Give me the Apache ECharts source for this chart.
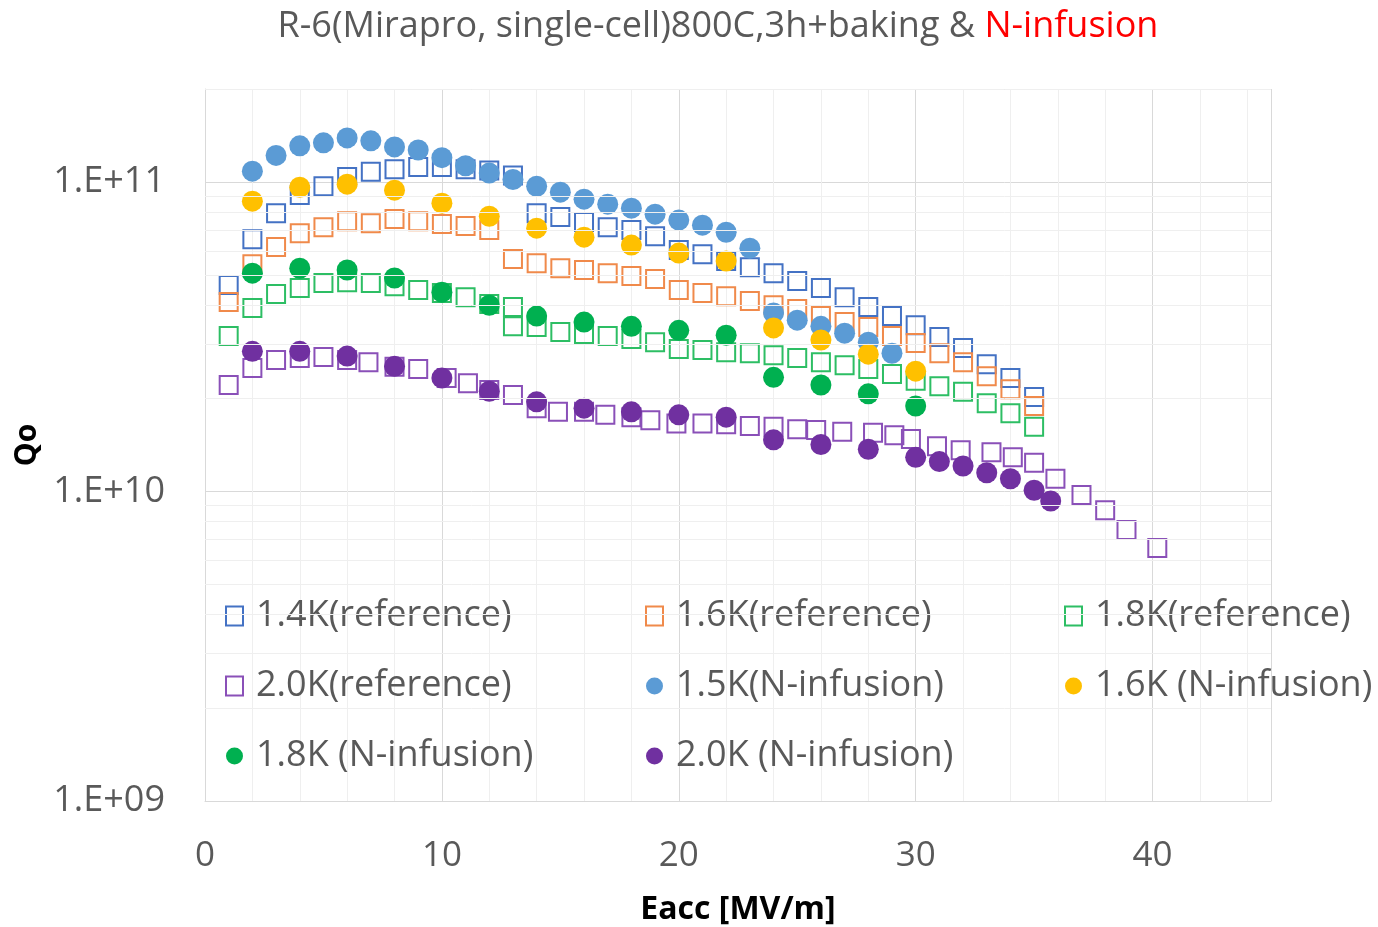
<!DOCTYPE html>
<html>
<head>
<meta charset="utf-8">
<script src="https://cdn.jsdelivr.net/npm/echarts@6/dist/echarts.min.js"></script>
<style>html,body{margin:0;padding:0;background:#fff}#c{width:1378px;height:927px}</style>
</head>
<body>
<div id="c"></div>
<script>
// ---------- data (Eacc in MV/m, Qo) ----------
const ref14_x = [1,2,3,4,5,6,7,8,9,10,11,12,13,14,15,16,17,18,19,20,21,22,23,24,25,26,27,28,29,30,31,32,33,34,35];
const ref14_q = [4.65e10,6.54e10,7.94e10,9.08e10,9.7e10,1.04e11,1.08e11,1.10e11,1.12e11,1.12e11,
                 1.10e11,1.09e11,1.05e11,7.94e10,7.71e10,7.43e10,7.15e10,7.0e10,6.69e10,6.03e10,
                 5.85e10,5.56e10,5.31e10,5.08e10,4.79e10,4.55e10,4.25e10,3.95e10,3.69e10,3.45e10,
                 3.16e10,2.91e10,2.58e10,2.33e10,2.02e10];

const ref16_x = [1,2,3,4,5,6,7,8,9,10,11,12,13,14,15,16,17,18,19,20,21,22,23,24,25,26,27,28,29,30,31,32,33,34,35];
const ref16_q = [4.10e10,5.43e10,6.17e10,6.84e10,7.15e10,7.48e10,7.37e10,7.60e10,7.48e10,7.32e10,
                 7.21e10,7.00e10,5.64e10,5.47e10,5.27e10,5.20e10,5.08e10,4.97e10,4.86e10,4.48e10,
                 4.38e10,4.28e10,4.13e10,4.00e10,3.89e10,3.69e10,3.53e10,3.40e10,3.18e10,3.02e10,
                 2.80e10,2.62e10,2.36e10,2.14e10,1.89e10];

const ref18_x = [1,2,3,4,5,6,7,8,9,10,11,12,13,13,14,15,16,17,18,19,20,21,22,23,24,25,26,27,28,29,30,31,32,33,34,35];
const ref18_q = [3.18e10,3.92e10,4.35e10,4.55e10,4.72e10,4.75e10,4.72e10,4.61e10,4.48e10,4.38e10,
                 4.25e10,4.04e10,3.95e10,3.42e10,3.40e10,3.28e10,3.23e10,3.18e10,3.11e10,3.04e10,
                 2.89e10,2.87e10,2.82e10,2.80e10,2.76e10,2.70e10,2.62e10,2.56e10,2.49e10,2.40e10,
                 2.28e10,2.19e10,2.10e10,1.93e10,1.79e10,1.62e10];

const ref20_x = [1,2,3,4,5,6,6.9,8,9,10.2,11.1,12,13,14,14.9,16,16.9,18,18.8,19.9,
                 21,22,23,24,25,25.8,26.9,28.2,29.1,29.8,30.9,31.9,33.2,34.1,35,35.9,37,38,38.9,40.2];
const ref20_q = [2.21e10,2.51e10,2.66e10,2.70e10,2.72e10,2.66e10,2.62e10,2.53e10,2.49e10,2.33e10,
                 2.24e10,2.13e10,2.05e10,1.86e10,1.81e10,1.81e10,1.77e10,1.74e10,1.70e10,1.66e10,
                 1.66e10,1.65e10,1.63e10,1.62e10,1.59e10,1.58e10,1.56e10,1.55e10,1.52e10,1.48e10,
                 1.40e10,1.36e10,1.34e10,1.29e10,1.24e10,1.10e10,9.74e9,8.71e9,7.51e9,6.57e9];

const ninf15_x = [2,3,4,5,6,7,8,9,10,11,12,13,14,15,16,17,18,19,20,21,22,23,24,25,26,27,28,29];
const ninf15_q = [1.085e11,1.22e11,1.31e11,1.34e11,1.39e11,1.36e11,1.30e11,1.27e11,1.20e11,1.13e11,
                  1.07e11,1.02e11,9.70e10,9.28e10,8.81e10,8.49e10,8.24e10,7.88e10,7.54e10,7.26e10,
                  6.89e10,6.12e10,3.78e10,3.58e10,3.42e10,3.25e10,3.04e10,2.80e10];

const ninf16_x = [2,4,6,8,10,12,14,16,18,20,22,24,26,28,30];
const ninf16_q = [8.68e10,9.63e10,9.85e10,9.42e10,8.55e10,7.76e10,7.10e10,6.64e10,6.26e10,5.90e10,
                  5.56e10,3.38e10,3.09e10,2.78e10,2.45e10];

const ninf18_x = [2,4,6,8,10,12,14,16,18,20,22,24,26,28,30];
const ninf18_q = [5.08e10,5.27e10,5.20e10,4.90e10,4.41e10,4.00e10,3.69e10,3.53e10,3.42e10,3.32e10,
                  3.20e10,2.34e10,2.21e10,2.07e10,1.89e10];

const ninf20_x = [2,4,6,8,10,12,14,16,18,20,22,24,26,28,30,31,32,33,34,35,35.7];
const ninf20_q = [2.84e10,2.84e10,2.74e10,2.54e10,2.33e10,2.11e10,1.95e10,1.86e10,1.81e10,1.77e10,
                  1.74e10,1.47e10,1.42e10,1.37e10,1.29e10,1.25e10,1.21e10,1.15e10,1.10e10,1.01e10,9.32e9];

// minor (log) gridline levels
const qMinorGrid = [2e9,3e9,4e9,5e9,6e9,7e9,8e9,9e9,2e10,3e10,4e10,5e10,6e10,7e10,8e10,9e10,2e11];

const seriesNames = ['1.4K(reference)','1.6K(reference)','1.8K(reference)','2.0K(reference)',
                     '1.5K(N-infusion)','1.6K (N-infusion)','1.8K (N-infusion)','2.0K (N-infusion)'];

// ---------- chart ----------
const FONT = "'Open Sans', 'Liberation Sans', sans-serif";
const GRAY = '#595959';
function pairs(xs, qs) { return xs.map((x, i) => [x, qs[i]]); }
function refSeries(name, xs, qs, color) {
  return { name, type: 'scatter', z: 3, symbol: 'rect', symbolSize: 18,
    itemStyle: { color: 'rgba(255,255,255,0)', borderColor: color, borderWidth: 2, opacity: 1 },
    emphasis: { disabled: true },
    data: pairs(xs, qs) };
}
function infSeries(name, xs, qs, color) {
  return { name, type: 'scatter', z: 4, symbol: 'circle', symbolSize: 21,
    itemStyle: { color: color, borderWidth: 0, opacity: 1 },
    emphasis: { disabled: true },
    data: pairs(xs, qs) };
}

const chart = echarts.init(document.getElementById('c'), null, { renderer: 'canvas' });
const legendText = { color: GRAY, fontSize: 36, fontFamily: FONT, lineHeight: 36, padding: [0, 0, 0, 8] };
const legendBase = { orient: 'vertical', top: 593, itemGap: 34, itemWidth: 17, itemHeight: 19,
  selectedMode: false, textStyle: legendText };

chart.setOption({
  animation: false,
  backgroundColor: '#fff',
  graphic: [{
    type: 'text', x: 718, y: 27,
    style: {
      text: '{a|R-6(Mirapro, single-cell)800C,3h+baking & }{b|N-infusion}',
      align: 'center', verticalAlign: 'middle',
      rich: {
        a: { fill: GRAY, fontSize: 36, fontFamily: FONT },
        b: { fill: '#ff0000', fontSize: 36, fontFamily: FONT }
      }
    }
  }],
  grid: { left: 205, right: 107, top: 89, bottom: 126, containLabel: false, outerBoundsMode: 'none' },
  legend: [
    Object.assign({}, legendBase, { left: 220, data: [seriesNames[0], seriesNames[3], seriesNames[6]] }),
    Object.assign({}, legendBase, { left: 640, data: [seriesNames[1], seriesNames[4], seriesNames[7]] }),
    Object.assign({}, legendBase, { left: 1059, data: [seriesNames[2], seriesNames[5]] })
  ],
  xAxis: {
    type: 'value', min: 0, max: 45, interval: 10,
    name: 'Eacc [MV/m]', nameLocation: 'middle', nameGap: 93,
    nameTextStyle: { color: '#000', fontSize: 32, fontWeight: 'bold', fontFamily: FONT },
    axisLine: { show: true, lineStyle: { color: '#d9d9d9', width: 1 } },
    axisTick: { show: false },
    axisLabel: { color: GRAY, fontSize: 35, fontFamily: FONT, margin: 38,
      formatter: v => (v % 10 === 0 ? String(v) : '') },
    splitLine: { show: true, lineStyle: { color: '#d9d9d9', width: 1 } },
    minorTick: { show: false, splitNumber: 5 },
    minorSplitLine: { show: true, lineStyle: { color: '#efefef', width: 1 } }
  },
  yAxis: {
    type: 'log', logBase: 10, min: 1e9, max: 2e11,
    name: 'Qo', nameLocation: 'middle', nameGap: 160,
    nameTextStyle: { color: '#000', fontSize: 30, fontWeight: 'bold', fontFamily: FONT },
    axisLine: { show: true, lineStyle: { color: '#d9d9d9', width: 1 } },
    axisTick: { show: false },
    axisLabel: { color: GRAY, fontSize: 36, fontFamily: FONT, margin: 40,
      formatter: v => {
        const e = Math.log10(v);
        if (Math.abs(e - Math.round(e)) > 1e-6) return '';
        const r = Math.round(e);
        return '1.E+' + (r < 10 ? '0' + r : r);
      } },
    splitLine: { show: true, lineStyle: { color: '#d9d9d9', width: 1 } }
  },
  series: [
    { name: 'minor-grid', type: 'scatter', z: 1, data: [], silent: true,
      markLine: { silent: true, symbol: ['none', 'none'], animation: false,
        label: { show: false },
        lineStyle: { color: '#efefef', type: 'solid', width: 1 },
        emphasis: { disabled: true },
        data: qMinorGrid.map(v => ({ yAxis: v })) } },
    refSeries(seriesNames[0], ref14_x, ref14_q, '#4472C4'),
    refSeries(seriesNames[1], ref16_x, ref16_q, '#F08A4B'),
    refSeries(seriesNames[2], ref18_x, ref18_q, '#2DBE64'),
    refSeries(seriesNames[3], ref20_x, ref20_q, '#8A50B8'),
    infSeries(seriesNames[4], ninf15_x, ninf15_q, '#5B9BD5'),
    infSeries(seriesNames[5], ninf16_x, ninf16_q, '#FFC000'),
    infSeries(seriesNames[6], ninf18_x, ninf18_q, '#00B050'),
    infSeries(seriesNames[7], ninf20_x, ninf20_q, '#7030A0')
  ]
});
</script>
</body>
</html>
